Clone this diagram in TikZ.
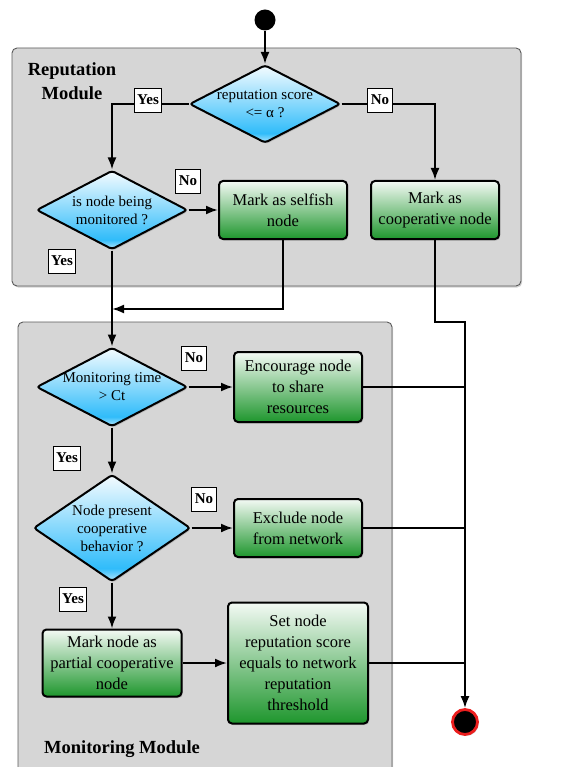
\documentclass[tikz,border=0pt]{standalone}
\usepackage{fontspec}
\setmainfont{Liberation Serif}
\usepackage{xcolor}
\usetikzlibrary{shapes.geometric, arrows.meta, shadows}

% Definimos colores
\definecolor{grisF}{RGB}{214,214,214}   % fondo de los modulos
\definecolor{grisB}{RGB}{90,90,90}      % borde de los modulos
\definecolor{azulC}{RGB}{48,188,250}    % decisiones
\definecolor{verdeC}{RGB}{30,150,45}    % acciones
\definecolor{rojoF}{RGB}{235,30,30}     % fin

% Degradado de los rombos
\pgfdeclareverticalshading{azulsombreado}{100bp}{color(0bp)=(azulC!35!white); color(25bp)=(azulC!35!white);
  color(31bp)=(azulC); color(75bp)=(azulC!5!white); color(100bp)=(azulC!5!white)}

\begin{document}
\begin{tikzpicture}[x=1pt, y=-1pt, line width=2pt, >={Latex[length=12pt,width=9pt]},
    sombra/.style={drop shadow={opacity=0.35, shadow xshift=1.2pt, shadow yshift=-1.5pt}},
    modulo/.style={draw=grisB, line width=0.9pt, fill=grisF, rounded corners=5pt, sombra},
    decision/.style={diamond, draw, line width=2pt, rounded corners=3pt, shade, shading=azulsombreado, inner sep=0pt, sombra},
    dtexto/.style={font=\fontsize{15}{18}\selectfont, align=center, inner sep=0pt},
    accion/.style={rectangle, draw, line width=2pt, rounded corners=4pt, top color=verdeC!5, bottom color=verdeC, font=\fontsize{16.5}{21}\selectfont, align=center, inner sep=2pt, sombra},
    etiqueta/.style={rectangle, draw, line width=0.7pt, fill=white, font=\fontsize{15}{17}\bfseries, inner xsep=3pt, inner ysep=0pt, minimum height=24},
    titulo/.style={font=\fontsize{18.5}{24}\bfseries, align=center},
    nodoini/.style={circle, fill=black, inner sep=0pt, minimum size=21},
    nodofin/.style={circle, fill=black, draw=rojoF, line width=2.8pt, inner sep=0pt, minimum size=25, sombra}]

    \useasboundingbox (0,0) rectangle (566,767);

    % Modulos
    \draw[modulo] (12,48) rectangle (521,286);
    \draw[modulo] (18,322) rectangle (392,790);
    \node[titulo] (trep) at (72,81) {Reputation\\Module};
    \node[titulo] (tmon) at (122,749) {Monitoring Module};

    % Reputation module
    \node[nodoini] (ini) at (265,20) {};
    \node[decision, minimum width=151, minimum height=78,
          label={[dtexto]center:{reputation score\\<= α ?}}] (d1) at (265,104) {};
    \node[decision, minimum width=151, minimum height=79,
          label={[dtexto]center:{is node being\\monitored ?}}] (d2) at (112,210) {};
    \node[accion, minimum width=128, minimum height=58] (selfish) at (283,210) {Mark as selfish\\node};
    \node[accion, minimum width=128, minimum height=58] (coop) at (435,210) {Mark as\\cooperative node};

    % Monitoring module
    \node[decision, minimum width=151, minimum height=79,
          label={[dtexto]center:{Monitoring time\\> Ct}}] (d3) at (112,387) {};
    \node[accion, minimum width=128, minimum height=70] (encourage) at (298,387) {Encourage node\\to share\\resources};
    \node[decision, minimum width=157, minimum height=107,
          label={[dtexto]center:{Node present\\cooperative\\behavior ?}}] (d4) at (112,528) {};
    \node[accion, minimum width=128, minimum height=58] (exclude) at (298,528) {Exclude node\\from network};
    \node[accion, minimum width=139, minimum height=67] (partial) at (112,663) {Mark node as\\partial cooperative\\node};
    \node[accion, minimum width=140, minimum height=121] (setnode) at (298,663) {Set node\\reputation score\\equals to network\\reputation\\threshold};

    \node[nodofin] (fin) at (465,722) {};

    % Conexiones
    \coordinate (codo) at (435,322);
    \coordinate (union) at (283,309);

    \draw[->] (ini) -- (d1);
    \draw[->] (d1.west) -| (d2.north);
    \draw[->] (d1.east) -| (coop.north);
    \draw[->] (d2) -- (selfish);
    \draw[->] (selfish) -- (union) -- (union -| d2);
    \draw[->] (d2) -- (d3);
    \draw[->] (d3) -- (encourage);
    \draw[->] (d3) -- (d4);
    \draw[->] (d4) -- (exclude);
    \draw[->] (d4) -- (partial);
    \draw[->] (partial) -- (setnode);
    \draw[->] (coop) -- (codo) -| (fin);
    \draw (encourage) -- (encourage -| fin);
    \draw[line width=1.4pt] (exclude) -- (exclude -| fin);
    \draw[line width=1.4pt] (setnode) -- (setnode -| fin);

    % Etiquetas Yes / No
    \node[etiqueta] (si1) at (148,100) {Yes};
    \node[etiqueta] (no1) at (380,100) {No};
    \node[etiqueta] (no2) at (188,181) {No};
    \node[etiqueta] (si2) at (62,261) {Yes};
    \node[etiqueta] (no3) at (194,358) {No};
    \node[etiqueta] (si3) at (67,458) {Yes};
    \node[etiqueta] (no4) at (204,499) {No};
    \node[etiqueta] (si4) at (73,599) {Yes};

\end{tikzpicture}
\end{document}
